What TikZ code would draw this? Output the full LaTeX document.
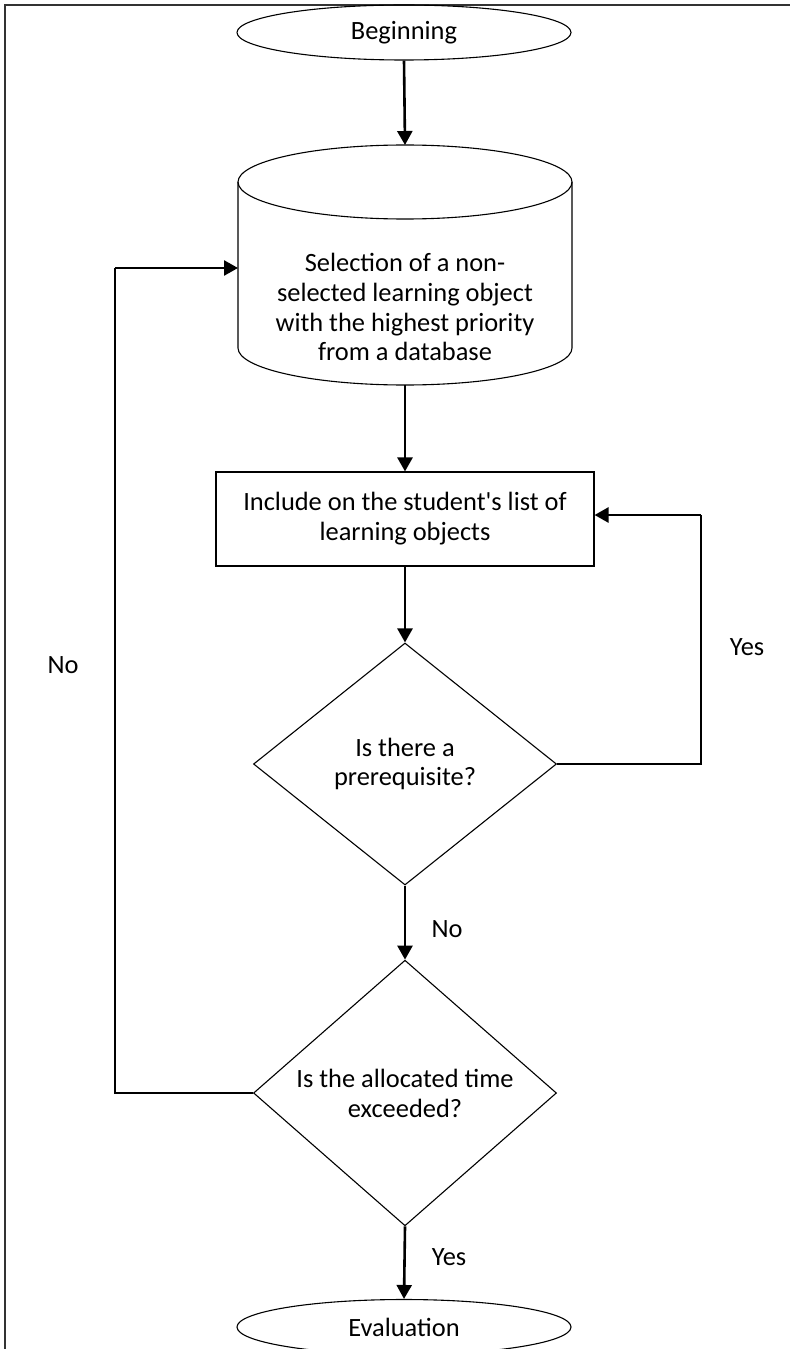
\documentclass[tikz,border=0pt]{standalone}
\usepackage{fontspec}
\setmainfont{Carlito}[Ligatures=TeXOff]
\usetikzlibrary{shapes.geometric,arrows.meta}
\begin{document}
\begin{tikzpicture}[x=1bp,y=1bp,
  every node/.style={font=\fontsize{26.5}{30}\selectfont, inner sep=0pt, align=center},
  term/.style={ellipse, draw, line width=1.1bp, minimum width=334bp, minimum height=55bp},
  procbox/.style={rectangle, draw, line width=1.1bp, minimum width=378bp, minimum height=94bp},
  decision/.style={diamond, draw, line width=1.1bp, minimum width=303bp, minimum height=242bp},
  flow/.style={line width=2.6bp, -{Triangle[length=14bp,width=15bp]}},
  thinline/.style={line width=1.2bp},
  frameline/.style={line width=1.6bp, draw=black!80}
]
\useasboundingbox (0,0) rectangle (789,-1349);
% frame
\draw[frameline] (5,-1400) -- (5,-5) -- (800,-5);

% nodes
\node[term] (begin) at (404,-32.5) {Beginning};

\node (db) at (405,-307) {Selection of a non-\\selected learning object\\with the highest priority\\from a database};
\draw[line width=1.1bp] (405,-182) ellipse [x radius=167, y radius=37];
\draw[line width=1.1bp] (238,-182) -- (238,-348) arc [start angle=180, end angle=360, x radius=167, y radius=37] -- (572,-182);
\coordinate (dbtop) at (405,-145);
\coordinate (dbbot) at (405,-385);
\coordinate (dbleft) at (238,-268);

\node[procbox] (incl) at (405,-519) {Include on the student's list of\\learning objects};
\node[decision] (pre) at (405,-764) {Is there a\\prerequisite?};
\node[decision] (time) at (405,-1093) {Is the allocated time\\exceeded?};
\node[term] (eval) at (404,-1327) {Evaluation};

% connectors
\draw[flow] (begin.south) -- (dbtop);
\draw[flow] (dbbot) -- (incl.north);
\draw[flow] (incl.south) -- (pre.north);
\draw[flow] (pre.south) -- (time.north);
\draw[flow] (time.south) -- (eval.north);

\coordinate (yr) at (701,-515);
\draw[thinline] (pre.east) -| (yr);
\draw[flow] (yr) -- (incl.east |- yr);

\coordinate (nl) at (115,-268);
\draw[thinline] (time.west) -| (nl);
\draw[flow] (nl) -- (dbleft);

% labels
\node (lyes1) at (747,-647) {Yes};
\node (lno1) at (63,-665) {No};
\node (lno2) at (447,-929) {No};
\node (lyes2) at (449,-1257) {Yes};
\end{tikzpicture}
\end{document}
